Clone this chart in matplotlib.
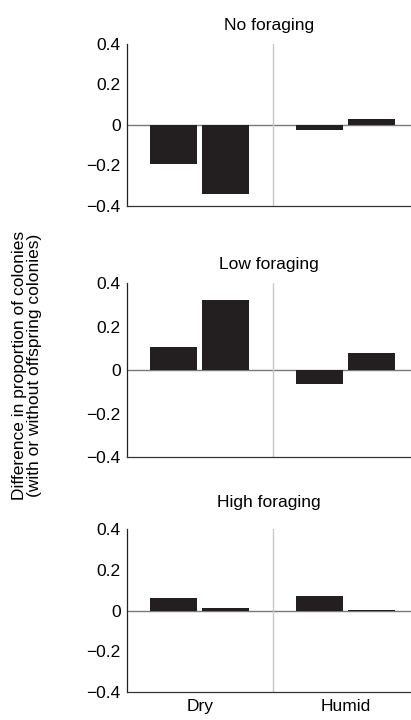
import matplotlib.pyplot as plt
import numpy as np

plt.rcParams['font.family'] = ['Liberation Sans', 'DejaVu Sans']

# data
habitats = ['Dry', 'Humid']
panel_titles = ['No foraging', 'Low foraging', 'High foraging']
first_bar = [[-0.195, -0.025], [0.107, -0.065], [0.064, 0.074]]
second_bar = [[-0.34, 0.03], [0.32, 0.08], [0.015, 0.005]]
y_ticks = [-0.4, -0.2, 0, 0.2, 0.4]
y_ticklabels = ['\u22120.4', '\u22120.2', '0', '0.2', '0.4']

bar_color = '#231f20'
fs = 12.5
fig = plt.figure(figsize=(4.11, 7.2), dpi=100)

# [left, bottom, width, height] of each panel
boxes = [[0.309, 0.714, 0.691, 0.225],
         [0.309, 0.365, 0.691, 0.242],
         [0.309, 0.039, 0.691, 0.226]]
title_pads = [10, 10, 16]

x = np.arange(len(habitats))
w = 0.323
off = 0.179

for i, box in enumerate(boxes):
    ax = fig.add_axes(box)
    ax.bar(x - off, first_bar[i], width=w, color=bar_color, zorder=2)
    ax.bar(x + off, second_bar[i], width=w, color=bar_color, zorder=2)
    ax.axhline(0, color='#7a7a7a', lw=1.0, zorder=1)
    ax.axvline(0.5, color='#c8c8c8', lw=1.0, zorder=1)
    ax.set_xlim(-0.5, 1.45)
    ax.set_ylim(-0.4, 0.4)
    ax.set_yticks(y_ticks)
    ax.set_yticklabels(y_ticklabels)
    ax.tick_params(axis='y', length=0, pad=4.5, labelsize=fs)
    ax.tick_params(axis='x', length=0, pad=5, labelsize=fs)
    if i == 2:
        ax.set_xticks(x)
        ax.set_xticklabels(habitats)
    else:
        ax.set_xticks([])
    for s in ['top', 'right']:
        ax.spines[s].set_visible(False)
    ax.spines['left'].set_color('#222222')
    ax.spines['bottom'].set_color('#333333')
    ax.spines['left'].set_linewidth(0.9)
    ax.spines['bottom'].set_linewidth(0.9)
    ax.set_title(panel_titles[i], fontsize=fs, pad=title_pads[i])

fig.text(0.066, 0.492, 'Difference in proportion of colonies\n(with or without offspring colonies)',
         rotation=90, ha='center', va='center', fontsize=fs, linespacing=1.05)

fig.savefig('out.png', dpi=100)
